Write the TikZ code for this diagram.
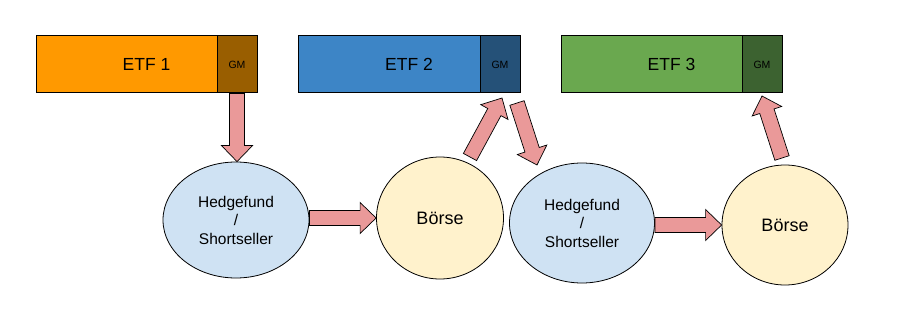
\documentclass[tikz,border=0pt]{standalone}
\usepackage{fontspec}
\setmainfont{Liberation Sans}
\usetikzlibrary{shapes.geometric,calc}
\definecolor{etfa}{HTML}{FF9900}
\definecolor{gma}{HTML}{995E00}
\definecolor{etfb}{HTML}{3D85C6}
\definecolor{gmb}{HTML}{255178}
\definecolor{etfc}{HTML}{6AA84F}
\definecolor{gmc}{HTML}{3C6230}
\definecolor{hfblue}{HTML}{CFE2F3}
\definecolor{boyellow}{HTML}{FFF2CC}
\definecolor{arrpink}{HTML}{EA9999}
\tikzset{
  etfbox/.style={draw=black, line width=1pt, minimum width=221pt, minimum height=57pt, inner sep=0pt, font=\fontsize{17.5}{20}\selectfont},
  gmbox/.style={draw=black, line width=1pt, minimum width=40pt, minimum height=57pt, inner sep=0pt, font=\fontsize{10.5}{12}\selectfont},
  hfnode/.style={ellipse, draw=black, line width=0.8pt, fill=hfblue, inner sep=0pt, align=center, font=\fontsize{15.5}{18.5}\selectfont},
  bonode/.style={ellipse, draw=black, line width=0.8pt, fill=boyellow, inner sep=0pt, font=\fontsize{18}{20}\selectfont},
  blockarr/.style={draw=black, line width=0.7pt, fill=arrpink, line join=miter}
}
\newcommand{\blockarrow}[2]{%
  \coordinate (ba-h) at ($(#2)!16pt!(#1)$);
  \draw[blockarr] ($(#1)!7.5pt!90:(#2)$) -- ($(ba-h)!7.5pt!90:(#2)$) -- ($(ba-h)!15.5pt!90:(#2)$) -- (#2)
    -- ($(ba-h)!15.5pt!-90:(#2)$) -- ($(ba-h)!7.5pt!-90:(#2)$) -- ($(#1)!7.5pt!-90:(#2)$) -- cycle;
}
\begin{document}
\begin{tikzpicture}[x=1pt,y=-1pt]
\useasboundingbox (0,0) rectangle (897,334);
\fill[white] (0,0) rectangle (897,334);
% ETF boxes
\node[etfbox, fill=etfa] (etf1) at (146.5,64.5) {ETF 1};
\node[gmbox, fill=gma] (gm1) at (237,64.5) {GM};
\node[etfbox, fill=etfb] (etf2) at (409,64.5) {ETF 2};
\node[gmbox, fill=gmb] (gm2) at (500,64.5) {GM};
\node[etfbox, fill=etfc] (etf3) at (671.5,64.5) {ETF 3};
\node[gmbox, fill=gmc] (gm3) at (762,64.5) {GM};
% ellipses
\node[hfnode, minimum width=146pt, minimum height=116pt] (hf1) at (236,220) {Hedgefund\\/\\Shortseller};
\node[bonode, minimum width=127pt, minimum height=122pt] (b1) at (440,218) {Börse};
\node[hfnode, minimum width=145pt, minimum height=120pt] (hf2) at (582,223) {Hedgefund\\/\\Shortseller};
\node[bonode, minimum width=126pt, minimum height=120pt] (b2) at (785,225) {Börse};
% arrow end points
\coordinate (a3s) at (470,157);
\coordinate (a3e) at (502,98);
\coordinate (a4s) at (517,103);
\coordinate (a4e) at (537,165);
\coordinate (a6s) at (782,158);
\coordinate (a6e) at (762,96);
\coordinate (a1e) at (gm1.south |- hf1.north);
\coordinate (a2s) at (hf1.east |- b1);
\coordinate (a5s) at (hf2.east |- b2);
% arrows
\blockarrow{gm1.south}{a1e}
\blockarrow{a2s}{b1.west}
\blockarrow{a3s}{a3e}
\blockarrow{a4s}{a4e}
\blockarrow{a5s}{b2.west}
\blockarrow{a6s}{a6e}
\end{tikzpicture}
\end{document}
